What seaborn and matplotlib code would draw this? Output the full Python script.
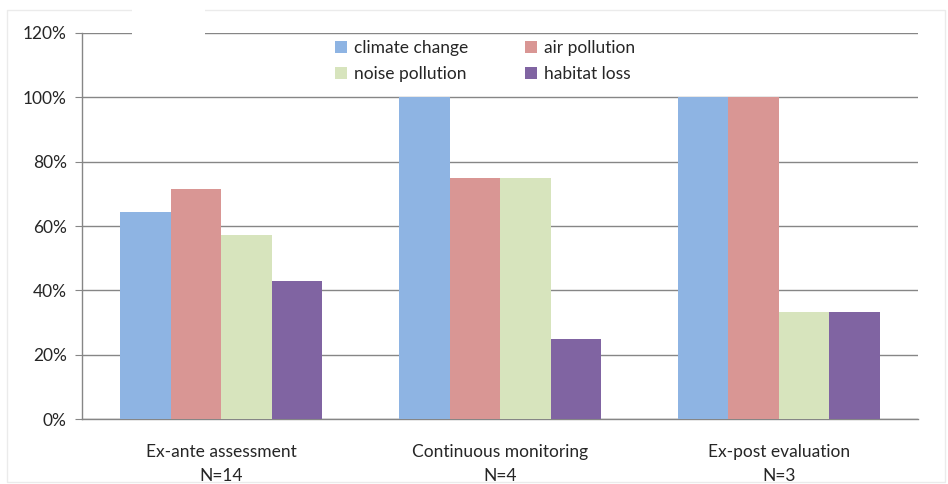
import pandas as pd
import matplotlib.pyplot as plt
import seaborn as sns
from matplotlib.patches import Rectangle
from matplotlib.ticker import PercentFormatter

# Chart data (share of studies, %)
phases = ['Ex-ante assessment\nN=14', 'Continuous monitoring\nN=4', 'Ex-post evaluation\nN=3']
impacts = ['climate change', 'air pollution', 'noise pollution', 'habitat loss']
climate_change = [64.3, 100, 100]
air_pollution = [71.4, 75, 100]
noise_pollution = [57.1, 75, 33.3]
habitat_loss = [42.9, 25, 33.3]
colors = ['#8EB4E3', '#D99694', '#D7E4BD', '#8064A2']

# long format for seaborn
rows = []
for impact, vals in zip(impacts, [climate_change, air_pollution, noise_pollution, habitat_loss]):
    for phase, v in zip(phases, vals):
        rows.append({'phase': phase, 'impact': impact, 'share': v})
df = pd.DataFrame(rows)

sns.set_style('white')
plt.rcParams['font.family'] = ['Lato', 'DejaVu Sans']

fig = plt.figure(figsize=(9.48, 4.84), dpi=100)
ax = fig.add_axes([0.0865, 0.134, 0.8820, 0.798])

sns.barplot(data=df, x='phase', y='share', hue='impact', hue_order=impacts,
            palette=colors, width=0.725, gap=0, saturation=1, linewidth=0,
            ax=ax, zorder=3)

ax.set_ylim(0, 120)
ax.set_xlim(-0.5, 2.5)
ax.set_yticks(range(0, 121, 20))
ax.yaxis.set_major_formatter(PercentFormatter(decimals=0))
ax.grid(axis='y', color='#868686', linewidth=1, zorder=0)
ax.set_axisbelow(True)
ax.set_xlabel('')
ax.set_ylabel('')

for side in ['top', 'right']:
    ax.spines[side].set_visible(False)
for side in ['left', 'bottom']:
    ax.spines[side].set_color('#868686')
    ax.spines[side].set_linewidth(1)

# category boundary ticks
ax.set_xticks([-0.5, 0.5, 1.5, 2.5], minor=True)
ax.tick_params(axis='x', which='major', length=0, pad=18, labelsize=12.5, labelcolor='#262626')
ax.tick_params(axis='x', which='minor', length=5, color='#868686', direction='out')
ax.tick_params(axis='y', length=5, color='#868686', direction='out', pad=6,
               labelsize=12.5, labelcolor='#262626', left=True)
for lbl in ax.get_xticklabels():
    lbl.set_linespacing(1.6)

# legend laid out row by row: climate, air / noise, habitat
handles, labels = ax.get_legend_handles_labels()
order = [0, 2, 1, 3]
leg = ax.legend([handles[i] for i in order], [labels[i] for i in order],
                ncol=2, loc='center', bbox_to_anchor=(0.482, 0.927),
                frameon=False, fontsize=12.5, handlelength=0.7, handleheight=0.7,
                columnspacing=3.3, handletextpad=0.4, labelspacing=0.6,
                borderpad=0.1)

# light chart border and white patch at top
fig.patches.append(Rectangle((0.007, 0.005), 0.99, 0.975, transform=fig.transFigure,
                             fill=False, edgecolor='#EBEBEB', linewidth=1))
fig.patches.append(Rectangle((0.139, 0.925), 0.077, 0.075, transform=fig.transFigure,
                             facecolor='white', edgecolor='none', zorder=5))

fig.savefig('out.png', dpi=100)
